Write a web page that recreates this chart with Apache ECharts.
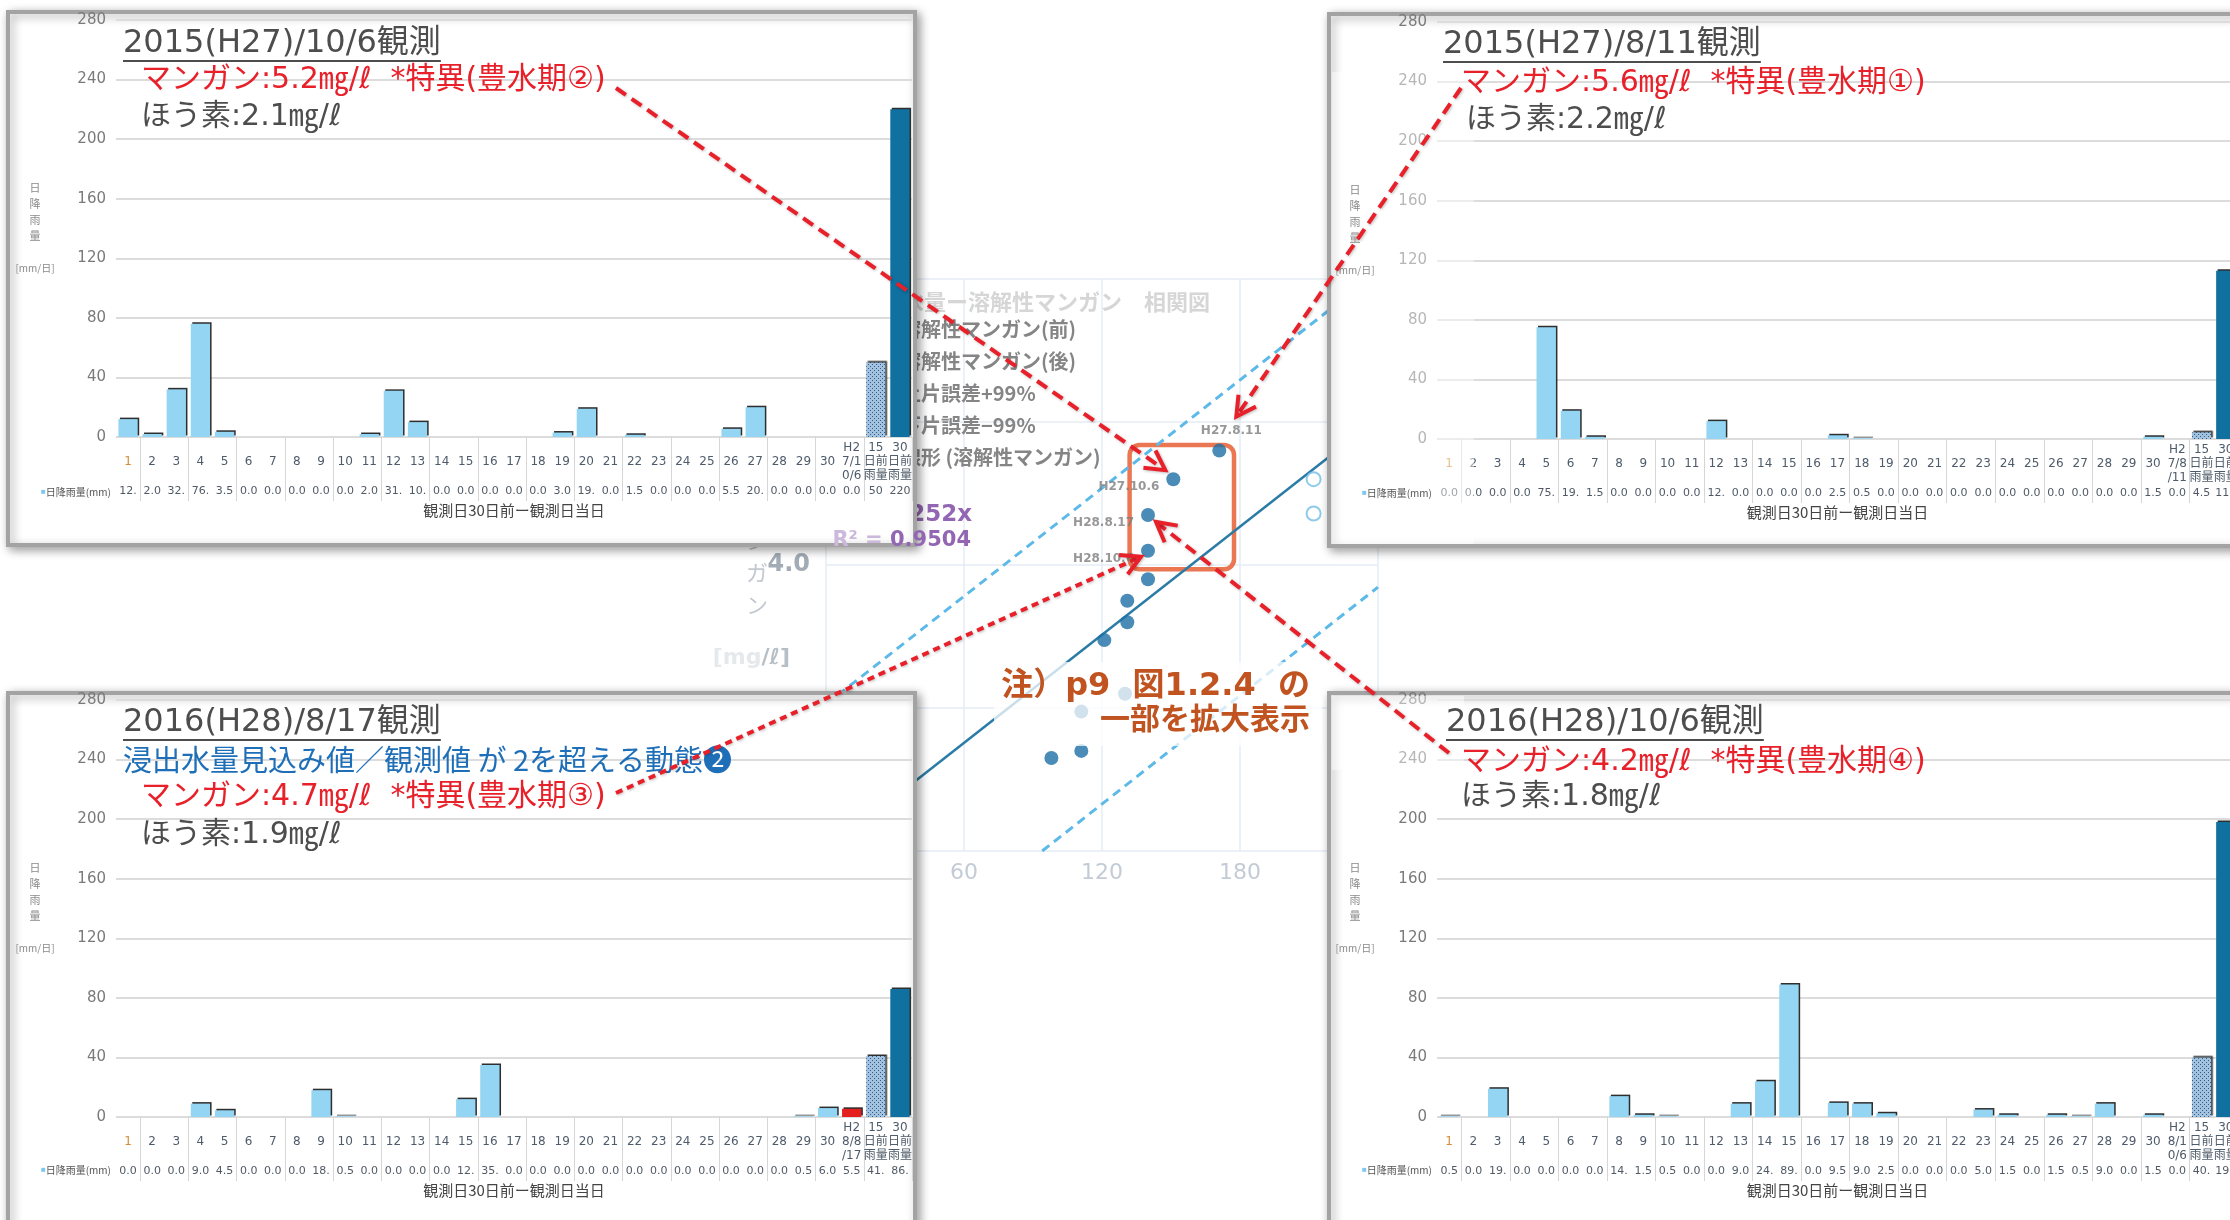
<!DOCTYPE html>
<html>
<head>
<meta charset="utf-8">
<script src="https://cdn.jsdelivr.net/npm/echarts@6.0.0/dist/echarts.min.js"></script>
<style>
html,body{margin:0;padding:0;background:#ffffff;}
#main{width:2230px;height:1220px;}
</style>
</head>
<body>
<div id="main"></div>
<script>
// ================= DATA =================
const dayCats = ['1','2','3','4','5','6','7','8','9','10','11','12','13','14','15','16','17','18','19','20','21','22','23','24','25','26','27','28','29','30'];
const sumCats = ['15\n日前\n雨量', '30\n日前\n雨量'];
const obsCatTL = 'H2\n7/1\n0/6';
const obsCatTR = 'H2\n7/8\n/11';
const obsCatBL = 'H2\n8/8\n/17';
const obsCatBR = 'H2\n8/1\n0/6';

// daily rainfall (mm) : day 1..30, observation day, 15-day sum, 30-day sum
const rainTL = [12, 2.0, 32, 76, 3.5, 0, 0, 0, 0, 0, 2.0, 31, 10, 0, 0, 0, 0, 0, 3.0, 19, 0, 1.5, 0, 0, 0, 5.5, 20, 0, 0, 0, 0, 50, 220];
const rainTR = [0, 0, 0, 0, 75, 19, 1.5, 0, 0, 0, 0, 12, 0, 0, 0, 0, 2.5, 0.5, 0, 0, 0, 0, 0, 0, 0, 0, 0, 0, 0, 1.5, 0, 4.5, 113];
const rainBL = [0, 0, 0, 9.0, 4.5, 0, 0, 0, 18, 0.5, 0, 0, 0, 0, 12, 35, 0, 0, 0, 0, 0, 0, 0, 0, 0, 0, 0, 0, 0.5, 6.0, 5.5, 41, 86];
const rainBR = [0.5, 0, 19, 0, 0, 0, 0, 14, 1.5, 0.5, 0, 0, 9.0, 24, 89, 0, 9.5, 9.0, 2.5, 0, 0, 0, 5.0, 1.5, 0, 1.5, 0.5, 9.0, 0, 1.5, 0, 40, 198];

// table row texts as printed under each chart
const rainTextTL = ['12.','2.0','32.','76.','3.5','0.0','0.0','0.0','0.0','0.0','2.0','31.','10.','0.0','0.0','0.0','0.0','0.0','3.0','19.','0.0','1.5','0.0','0.0','0.0','5.5','20.','0.0','0.0','0.0','0.0','50','220'];
const rainTextTR = ['0.0','0.0','0.0','0.0','75.','19.','1.5','0.0','0.0','0.0','0.0','12.','0.0','0.0','0.0','0.0','2.5','0.5','0.0','0.0','0.0','0.0','0.0','0.0','0.0','0.0','0.0','0.0','0.0','1.5','0.0','4.5','113'];
const rainTextBL = ['0.0','0.0','0.0','9.0','4.5','0.0','0.0','0.0','18.','0.5','0.0','0.0','0.0','0.0','12.','35.','0.0','0.0','0.0','0.0','0.0','0.0','0.0','0.0','0.0','0.0','0.0','0.0','0.5','6.0','5.5','41.','86.'];
const rainTextBR = ['0.5','0.0','19.','0.0','0.0','0.0','0.0','14.','1.5','0.5','0.0','0.0','9.0','24.','89.','0.0','9.5','9.0','2.5','0.0','0.0','0.0','5.0','1.5','0.0','1.5','0.5','9.0','0.0','1.5','0.0','40.','198'];

const titleTexts = ['2015(H27)/10/6観測', '2015(H27)/8/11観測', '2016(H28)/8/17観測', '2016(H28)/10/6観測'];
const mnTexts = ['マンガン:5.2㎎/ℓ  *特異(豊水期②)', 'マンガン:5.6㎎/ℓ  *特異(豊水期①)', 'マンガン:4.7㎎/ℓ  *特異(豊水期③)', 'マンガン:4.2㎎/ℓ  *特異(豊水期④)'];
const boronTexts = ['ほう素:2.1㎎/ℓ', 'ほう素:2.2㎎/ℓ', 'ほう素:1.9㎎/ℓ', 'ほう素:1.8㎎/ℓ'];
const blueText = '浸出水量見込み値／観測値 が 2を超える動態❷';

// background scatter (dissolved manganese vs leachate)
const mnAfter = [[171, 5.6], [151, 5.2], [140, 4.7], [140, 4.2], [140, 3.8], [131, 3.5], [131, 3.2], [121, 2.95], [130, 2.2], [111, 1.95], [111, 1.4], [98, 1.3]];
const mnAfterNames = ['H27.8.11', 'H27.10.6', 'H28.8.17', 'H28.10.6'];
const mnBefore = [[212, 5.2], [212, 4.72]];
const upperLine = [[0, 2.05], [236, 8]];
const lowerLine = [[94, 0], [240, 3.69]];
const fitLine = [[0, 0], [240, 6.05]];
const legendNames = ['溶解性マンガン(前)', '溶解性マンガン(後)', '上片誤差+99%', '下片誤差−99%', '線形 (溶解性マンガン)'];

// ================= STYLE / LAYOUT =================
const MIX = "'DejaVu Sans','Noto Sans CJK JP'";
const JP = "'Noto Sans CJK JP'";

const hc = document.createElement('canvas'); hc.width = 4; hc.height = 4;
const hx = hc.getContext('2d');
hx.fillStyle = '#a2c2e0'; hx.fillRect(0, 0, 4, 4);
hx.fillStyle = '#2f5d86'; hx.fillRect(0, 0, 1, 1); hx.fillRect(2, 2, 1, 1);
const hatch = { image: hc, repeat: 'repeat' };

const panels = [
  { grid: { left: 116, top: 20, width: 796, height: 417 }, cats: dayCats.concat([obsCatTL], sumCats), vals: rainTL, texts: rainTextTL, red: -1 },
  { grid: { left: 1437, top: 22, width: 801, height: 417 }, cats: dayCats.concat([obsCatTR], sumCats), vals: rainTR, texts: rainTextTR, red: -1 },
  { grid: { left: 116, top: 700, width: 796, height: 417 }, cats: dayCats.concat([obsCatBL], sumCats), vals: rainBL, texts: rainTextBL, red: 30 },
  { grid: { left: 1437, top: 700, width: 801, height: 417 }, cats: dayCats.concat([obsCatBR], sumCats), vals: rainBR, texts: rainTextBR, red: -1 }
];

const grids = [], xAxes = [], yAxes = [], series = [];
panels.forEach((p, i) => {
  grids.push(Object.assign({ outerBoundsMode: 'none', containLabel: false }, p.grid));
  xAxes.push({
    gridIndex: i, type: 'category', data: p.cats, z: 3, boundaryGap: true,
    axisLine: { show: false },
    axisTick: { show: true, length: 64, interval: (idx) => idx % 2 === 1, lineStyle: { color: '#d6d6d6', width: 1 } },
    axisLabel: { interval: 0, margin: 25, verticalAlign: 'middle', fontSize: 12, lineHeight: 14, fontFamily: MIX,
      color: (v, idx) => idx === 0 ? '#d88a3a' : '#4e5b6a' },
    name: '観測日30日前ー観測日当日', nameLocation: 'middle', nameGap: 66,
    nameTextStyle: { fontSize: 15, color: '#444', fontFamily: JP }
  });
  yAxes.push({
    gridIndex: i, type: 'value', min: 0, max: 280, interval: 40, z: 3,
    axisLine: { show: false }, axisTick: { show: false },
    axisLabel: { fontSize: 15, color: '#7a7a7a', margin: 10, fontFamily: "'DejaVu Sans'" },
    splitLine: { lineStyle: { color: '#dcdcdc', width: 2 } }
  });
  series.push({
    type: 'bar', xAxisIndex: i, yAxisIndex: i, z: 4, silent: true, barWidth: '80%',
    itemStyle: { color: '#93d5f3', shadowColor: 'rgba(35,35,35,0.95)', shadowOffsetX: 1.5, shadowOffsetY: -1.5, shadowBlur: 0 },
    data: p.vals.map((v, k) => {
      if (k === 32) return { value: v, itemStyle: { color: '#10709f' } };
      if (k === 31) return { value: v, itemStyle: { color: hatch } };
      if (k === p.red) return { value: v, itemStyle: { color: '#e3201d' } };
      return v;
    })
  });
});
// second x axis per panel: the rainfall table row
panels.forEach((p, i) => {
  xAxes.push({
    gridIndex: i, type: 'category', data: p.texts, position: 'bottom', z: 3,
    axisLine: { show: false }, axisTick: { show: false },
    axisLabel: { interval: 0, margin: 54, verticalAlign: 'middle', fontSize: 11, color: '#505a66', fontFamily: "'DejaVu Sans'" }
  });
});

// scatter grid (index 4)
grids.push({ left: 826, top: 279, width: 552, height: 572, outerBoundsMode: 'none', containLabel: false });
xAxes.push({
  gridIndex: 4, type: 'value', min: 0, max: 240, interval: 60, z: 0,
  axisLine: { show: false }, axisTick: { show: false },
  axisLabel: { fontSize: 22, color: '#c3ccd6', margin: 11, fontFamily: "'DejaVu Sans'" },
  splitLine: { lineStyle: { color: '#e4edf5', width: 1.5 } }
});
yAxes.push({
  gridIndex: 4, type: 'value', min: 0, max: 8, interval: 2, z: 0,
  axisLine: { show: false }, axisTick: { show: false },
  axisLabel: { fontSize: 24, color: '#a2acb6', margin: 16, fontWeight: 'bold', fontFamily: "'DejaVu Sans'", formatter: v => v.toFixed(1) },
  splitLine: { lineStyle: { color: '#e4edf5', width: 1.5 } }
});
const SX = 8, SY = 4;
series.push({
  name: legendNames[0], type: 'scatter', xAxisIndex: SX, yAxisIndex: SY, z: 1, silent: true,
  symbolSize: 14, itemStyle: { color: '#ffffff', borderColor: '#74bde3', borderWidth: 2 }, data: mnBefore
});
series.push({
  name: legendNames[1], type: 'scatter', xAxisIndex: SX, yAxisIndex: SY, z: 1, silent: true,
  symbolSize: 14, itemStyle: { color: '#1d6fa5' },
  data: mnAfter.map((d, k) => {
    if (k >= mnAfterNames.length) return d;
    const pos = k === 0 ? { position: 'top', offset: [12, -2] } : { position: 'left', offset: [-2, 8] };
    return { value: d, label: Object.assign({ show: true, formatter: mnAfterNames[k], fontSize: 12, fontWeight: 'bold', color: '#7d7d7d', fontFamily: "'DejaVu Sans'" }, pos) };
  })
});
series.push({
  name: legendNames[2], type: 'line', xAxisIndex: SX, yAxisIndex: SY, z: 1, silent: true, symbol: 'none',
  lineStyle: { color: '#5db9e8', width: 3, type: [9, 6] }, data: upperLine
});
series.push({
  name: legendNames[3], type: 'line', xAxisIndex: SX, yAxisIndex: SY, z: 1, silent: true, symbol: 'none',
  lineStyle: { color: '#5db9e8', width: 3, type: [9, 6] }, data: lowerLine
});
series.push({
  name: legendNames[4], type: 'line', xAxisIndex: SX, yAxisIndex: SY, z: 1, silent: true, symbol: 'none',
  lineStyle: { color: '#2a7ca6', width: 2.5 }, data: fitLine
});

const option = {
  animation: false,
  backgroundColor: '#ffffff',
  grid: grids, xAxis: xAxes, yAxis: yAxes, series: series,
  legend: {
    data: legendNames, orient: 'vertical', left: 866, top: 313, itemGap: 10, itemWidth: 24, itemHeight: 14,
    selectedMode: false, z: 1,
    textStyle: { fontSize: 20, lineHeight: 22, color: '#858585', fontWeight: 'bold', fontFamily: JP }
  }
};

const chart = echarts.init(document.getElementById('main'));
chart.setOption(option);

// ================= ANNOTATIONS =================
const mctx = document.createElement('canvas').getContext('2d');
function tw(text, font) { mctx.font = font; return mctx.measureText(text).width; }
function txt(x, y, text, font, fill, align, z, extra) {
  return { type: 'text', z: z || 10, silent: true,
    style: Object.assign({ x: x, y: y, text: text, font: font, fill: fill,
      textAlign: align || 'left', align: align || 'left', textVerticalAlign: 'middle', verticalAlign: 'middle' }, extra || {}) };
}
function arrow(x1, y1, x2, y2, dash) {
  const ang = Math.atan2(y2 - y1, x2 - x1), L = 22, a = 0.5;
  const p1 = [x2 - L * Math.cos(ang - a), y2 - L * Math.sin(ang - a)];
  const p2 = [x2 - L * Math.cos(ang + a), y2 - L * Math.sin(ang + a)];
  const st = { stroke: '#e8202a', lineWidth: 4, shadowBlur: 3, shadowColor: 'rgba(0,0,0,0.25)', shadowOffsetX: 1, shadowOffsetY: 1 };
  return [
    { type: 'line', z: 12, silent: true, shape: { x1: x1, y1: y1, x2: x2 - 3 * Math.cos(ang), y2: y2 - 3 * Math.sin(ang) }, style: Object.assign({ lineDash: dash }, st) },
    { type: 'polyline', z: 12, silent: true, shape: { points: [p1, [x2, y2], p2] }, style: Object.assign({ fill: null }, st) }
  ];
}
const px = (d) => chart.convertToPixel({ xAxisIndex: SX, yAxisIndex: SY }, d);

const g = [];
// scatter decorations (under the panels)
g.push(txt(1210, 302, '浸出水量ー溶解性マンガン　相関図', "bold 22px " + JP, '#d6d6d6', 'right', 1));
g.push(txt(972, 515, 'y = 0.0252x', "bold 23px 'DejaVu Sans'", '#9366b3', 'right', 1));
g.push({ type: 'text', z: 3, silent: true, style: { x: 971, y: 541, textAlign: 'right', align: 'right', textVerticalAlign: 'middle', verticalAlign: 'middle',
  text: '{a|R² = }{b|0.9504}', rich: {
    a: { fill: '#cbb8da', fontSize: 21, fontWeight: 'bold', fontFamily: "'DejaVu Sans'" },
    b: { fill: '#9366b3', fontSize: 21, fontWeight: 'bold', fontFamily: "'DejaVu Sans'" } } } });
g.push(txt(757, 493, 'マ\nン\nガ\nン', "22px " + JP, '#c3c9d0', 'center', 1, { lineHeight: 32, textVerticalAlign: 'top', verticalAlign: 'top' }));
g.push({ type: 'text', z: 1, silent: true, style: { x: 790, y: 658, textAlign: 'right', align: 'right', textVerticalAlign: 'middle', verticalAlign: 'middle',
  text: '{a|[mg}{b|/ℓ]}', rich: {
    a: { fill: '#e6e9ec', fontSize: 22, fontWeight: 'bold', fontFamily: "'DejaVu Sans'" },
    b: { fill: '#b6bec6', fontSize: 22, fontWeight: 'bold', fontFamily: "'DejaVu Sans'" } } } });
const r1 = px([132, 5.68]), r2 = px([177.4, 3.94]);
g.push({ type: 'rect', z: 1, silent: true, shape: { x: r1[0], y: r1[1], width: r2[0] - r1[0], height: r2[1] - r1[1], r: 10 },
  style: { fill: null, stroke: '#ea7752', lineWidth: 4.5 } });

// panels
const panelRects = [[8, 12, 907, 533], [1329, 14, 920, 532], [8, 693, 907, 545], [1329, 693, 920, 545]];
panelRects.forEach(r => g.push({ type: 'rect', z: 2, silent: true, shape: { x: r[0], y: r[1], width: r[2], height: r[3] },
  style: { fill: '#ffffff', stroke: '#a3a3a3', lineWidth: 4, shadowBlur: 10, shadowColor: 'rgba(0,0,0,0.35)', shadowOffsetX: 3, shadowOffsetY: 3 } }));
// faded overlay areas on the right-hand panels
g.push({ type: 'rect', z: 6, silent: true, shape: { x: 1332, y: 72, width: 142, height: 472 }, style: { fill: 'rgba(255,255,255,0.45)' } });
g.push({ type: 'rect', z: 6, silent: true, shape: { x: 1332, y: 696, width: 132, height: 74 }, style: { fill: 'rgba(255,255,255,0.45)' } });

// per panel texts
const TF = "32px " + MIX, RF = "30px " + MIX;
const titlePos = [[123, 44], [1443, 45], [123, 723], [1446, 723]];
const mnPos = [[141, 80], [1461, 83], [141, 797], [1461, 762]];
const bPos = [[141, 117], [1466, 120], [141, 835], [1461, 797]];
for (let i = 0; i < 4; i++) {
  g.push(txt(titlePos[i][0], titlePos[i][1], titleTexts[i], TF, '#4d4d4d'));
  const w = tw(titleTexts[i], TF);
  g.push({ type: 'line', z: 10, silent: true, shape: { x1: titlePos[i][0], y1: titlePos[i][1] + 17, x2: titlePos[i][0] + w, y2: titlePos[i][1] + 17 }, style: { stroke: '#4d4d4d', lineWidth: 2 } });
  g.push(txt(mnPos[i][0], mnPos[i][1], mnTexts[i], RF, '#e8202a'));
  g.push(txt(bPos[i][0], bPos[i][1], boronTexts[i], RF, '#4d4d4d'));
}
g.push(txt(123, 760, blueText, "29px " + JP, '#1f6fb8'));

// y axis names and table headers
const yNameX = [35, 1355, 35, 1355], yNameTop = [180, 182, 860, 860];
const hdr = [[111, 492], [1432, 493], [111, 1170], [1432, 1170]];
for (let i = 0; i < 4; i++) {
  g.push(txt(yNameX[i], yNameTop[i], '日\n降\n雨\n量', "11px " + JP, '#8a8a8a', 'center', 10, { lineHeight: 16, textVerticalAlign: 'top', verticalAlign: 'top' }));
  g.push(txt(yNameX[i], yNameTop[i] + 88, '[mm/日]', "10px " + JP, '#8a8a8a', 'center'));
  g.push({ type: 'text', z: 10, silent: true, style: { x: hdr[i][0], y: hdr[i][1], textAlign: 'right', align: 'right', textVerticalAlign: 'middle', verticalAlign: 'middle',
    text: '{a|■}{b|日降雨量(mm)}', rich: { a: { fill: '#7cc8ee', fontSize: 8 }, b: { fill: '#555', fontSize: 10, fontFamily: JP } } } });
}

// note
const noteSt = { shadowBlur: 3, shadowColor: 'rgba(0,0,0,0.25)', shadowOffsetX: 1, shadowOffsetY: 1 };
g.push({ type: 'rect', z: 9, silent: true, shape: { x: 994, y: 662, width: 328, height: 84 }, style: { fill: 'rgba(255,255,255,0.75)' } });
g.push(txt(1310, 687, '注）p9  図1.2.4  の', "bold 32px " + MIX, '#c0531f', 'right', 11, noteSt));
g.push(txt(1310, 721, '一部を拡大表示', "bold 30px " + MIX, '#c0531f', 'right', 11, noteSt));

// arrows from panel notes to the points
const pA = px(mnAfter[1]), pB = px(mnAfter[0]), pC = px(mnAfter[3]), pD = px(mnAfter[2]);
arrow(616, 88, pA[0] - 8, pA[1] - 9, [12, 7]).forEach(e => g.push(e));
arrow(1461, 88, pB[0] + 17, pB[1] - 34, [12, 7]).forEach(e => g.push(e));
arrow(616, 793, pC[0] - 7, pC[1] + 6, [7, 5]).forEach(e => g.push(e));
arrow(1449, 753, pD[0] + 8, pD[1] + 7, [12, 7]).forEach(e => g.push(e));

chart.setOption({ graphic: g });
</script>
</body>
</html>
